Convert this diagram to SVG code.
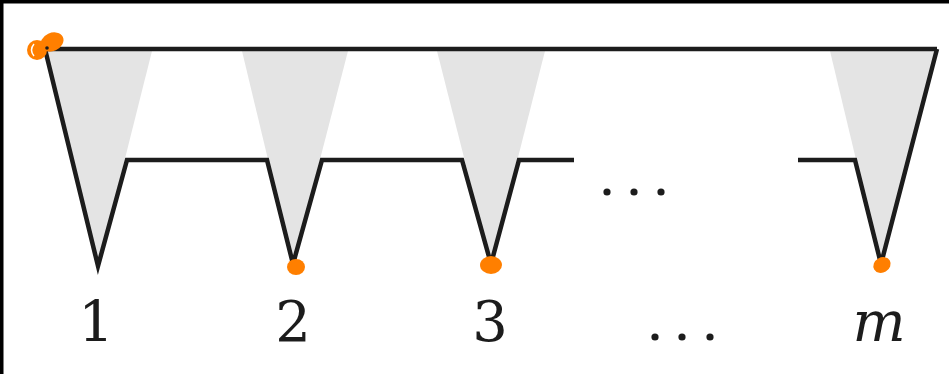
<svg xmlns="http://www.w3.org/2000/svg" width="949" height="374" viewBox="0 0 949 374">
  <style>
    .tri { fill: #e4e4e4; stroke: none; }
    .ln { fill: none; stroke: #1c1c1c; stroke-width: 4.5; stroke-linejoin: miter; stroke-linecap: butt; }
    .lbl { font-size: 56px; fill: #1c1c1c; text-anchor: middle; }
    .dot { fill: #1c1c1c; }
    .mark { fill: #ff7f00; }
  </style>
  <rect x="0" y="0" width="949" height="374" fill="#ffffff"/>
  <rect x="0" y="0" width="949" height="3.5" fill="#000000"/>
  <rect x="0" y="0" width="3.5" height="374" fill="#000000"/>

  <g id="node-1">
    <polygon class="tri" points="45,51 152,51 98,266"/>
  </g>
  <g id="node-2">
    <polygon class="tri" points="242,51 348,51 293,264"/>
  </g>
  <g id="node-3">
    <polygon class="tri" points="437,51 545,51 491,264"/>
  </g>
  <g id="node-m">
    <polygon class="tri" points="830,51 937,51 881,264"/>
  </g>

  <g id="connectors">
    <path class="ln" d="M937,49 L45,49 L98,266 L127,160 L267,160 L293,264 L322,160 L462,160 L491,264 L519,160 L574,160"/>
    <path class="ln" d="M798,160 L855,160 L881,264 L937,49"/>
  </g>

  <g id="dots-mid">
    <circle class="dot" cx="607" cy="192" r="3.6"/>
    <circle class="dot" cx="634" cy="192" r="3.6"/>
    <circle class="dot" cx="661" cy="192" r="3.6"/>
  </g>

  <g id="labels" font-family="DejaVu Serif, Liberation Serif, serif">
    <text class="lbl" x="96" y="341" font-family="DejaVu Serif, Liberation Serif, serif">1</text>
    <text class="lbl" x="293" y="341" font-family="DejaVu Serif, Liberation Serif, serif">2</text>
    <text class="lbl" x="490" y="341" font-family="DejaVu Serif, Liberation Serif, serif">3</text>
    <text class="lbl" x="879" y="341" font-family="DejaVu Serif, Liberation Serif, serif" font-style="italic">m</text>
  </g>
  <g id="dots-bottom">
    <circle class="dot" cx="655" cy="337" r="3.6"/>
    <circle class="dot" cx="682" cy="337" r="3.6"/>
    <circle class="dot" cx="710" cy="337" r="3.6"/>
  </g>

  <g id="marks">
    <ellipse class="mark" cx="52" cy="42" rx="12" ry="9" transform="rotate(-25 52 42)"/>
    <ellipse class="mark" cx="37" cy="50" rx="10" ry="10"/>
    <path d="M34,44 Q29,50 34,56" fill="none" stroke="#ffffff" stroke-width="1.5"/>
    <circle cx="47" cy="48" r="1.8" fill="#1c1c1c"/>
    <ellipse class="mark" cx="296" cy="267" rx="9" ry="8"/>
    <ellipse class="mark" cx="491" cy="265" rx="11" ry="9"/>
    <ellipse class="mark" cx="882" cy="265" rx="9" ry="7.5" transform="rotate(-30 882 265)"/>
  </g>
</svg>
